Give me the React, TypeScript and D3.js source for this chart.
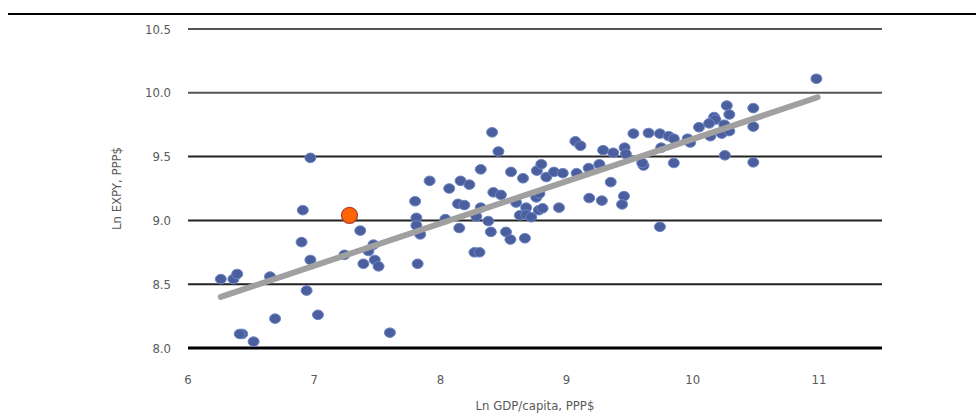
import React from "react";
import * as d3 from "d3";

const countryX: number[] = [
  6.97, 7.915, 7.8, 6.91, 7.81, 7.365, 7.81, 7.84, 6.9, 7.47, 7.43, 7.24, 6.97, 7.48, 7.39, 7.51, 7.82,
  6.26, 6.36, 6.39, 6.65, 6.94, 6.69, 7.03, 6.43, 6.41, 6.52, 7.6,
  8.41, 8.46, 9.07, 9.11, 9.53, 9.29, 9.37, 9.46, 9.47, 9.61,
  8.32, 8.56, 8.655, 8.765, 8.8, 8.84, 8.9, 8.97, 9.08, 9.175, 9.26, 9.35,
  8.07, 8.16, 8.23, 8.42, 8.48, 8.14, 8.19, 8.32, 8.6, 8.76, 8.785, 9.18, 9.28, 9.455, 9.44,
  8.94, 8.68, 8.78, 8.81, 8.63, 8.68, 8.72, 8.04, 8.285, 8.38,
  8.15, 8.4, 8.52, 8.555, 8.67, 8.27, 8.31, 9.74,
  10.98, 10.27, 10.48, 10.29, 10.17, 10.18, 10.05, 10.13, 10.25, 10.48, 9.65, 9.74, 9.81, 9.85,
  9.96, 9.98, 10.14, 10.23, 10.29, 9.75, 9.85, 10.255, 10.48, 9.6,
];
const countryY: number[] = [
  9.49, 9.31, 9.15, 9.08, 9.02, 8.92, 8.96, 8.89, 8.83, 8.81, 8.76, 8.73, 8.69, 8.69, 8.66, 8.64, 8.66,
  8.54, 8.54, 8.58, 8.56, 8.45, 8.23, 8.26, 8.11, 8.11, 8.05, 8.12,
  9.69, 9.54, 9.62, 9.585, 9.68, 9.55, 9.53, 9.57, 9.52, 9.43,
  9.4, 9.38, 9.33, 9.39, 9.44, 9.34, 9.38, 9.37, 9.37, 9.41, 9.44, 9.3,
  9.25, 9.31, 9.28, 9.22, 9.2, 9.13, 9.12, 9.1, 9.14, 9.18, 9.21, 9.175, 9.155, 9.19, 9.125,
  9.1, 9.1, 9.08, 9.095, 9.04, 9.045, 9.025, 9.01, 9.03, 8.995,
  8.94, 8.91, 8.91, 8.85, 8.86, 8.75, 8.75, 8.95,
  10.11, 9.9, 9.88, 9.83, 9.81, 9.79, 9.73, 9.76, 9.75, 9.735, 9.685, 9.68, 9.66, 9.64,
  9.64, 9.61, 9.66, 9.68, 9.7, 9.57, 9.45, 9.51, 9.455, 9.45,
];
const highlightX = 7.28;
const highlightY = 9.04;
const trendX: number[] = [6.26, 10.99];
const trendY: number[] = [8.4, 9.965];
const xTicks: number[] = [6, 7, 8, 9, 10, 11];
const yTicks: number[] = [8.0, 8.5, 9.0, 9.5, 10.0, 10.5];
const xTitle = "Ln GDP/capita, PPP$";
const yTitle = "Ln EXPY, PPP$";

const W = 976;
const H = 414;
const FONT = "'DejaVu Sans Condensed', 'Liberation Sans Narrow', 'Liberation Sans', sans-serif";

export default function App() {
  const x = d3.scaleLinear().domain([6, 11.5]).range([188, 882]);
  const y = d3.scaleLinear().domain([8, 10.5]).range([348, 29]);
  const line = d3
    .line<number>()
    .x((_, i) => x(trendX[i]))
    .y((_, i) => y(trendY[i]));

  return (
    <svg
      width={W}
      height={H}
      style={{ position: "absolute", left: 0, top: 0, background: "#fff" }}
      fontFamily={FONT}
    >
      <line x1={8} x2={976} y1={14} y2={14} stroke="#000" strokeWidth={2} />
      {yTicks.map((t) => (
        <g key={"y" + t}>
          <line
            x1={x(6)}
            x2={x(11.5)}
            y1={y(t)}
            y2={y(t)}
            stroke={t === 8 ? "#000" : t === 10.5 || t === 10 ? "#555" : "#222"}
            strokeWidth={t === 8 ? 3 : 2}
          />
          <text
            x={171}
            y={y(t)}
            dy="0.35em"
            textAnchor="end"
            fontSize={13}
            fill="#595959"
          >
            {d3.format(".1f")(t)}
          </text>
        </g>
      ))}
      {xTicks.map((t) => (
        <text
          key={"x" + t}
          x={x(t)}
          y={384}
          textAnchor="middle"
          fontSize={13}
          fill="#595959"
        >
          {t}
        </text>
      ))}
      <text x={x(8.75)} y={410} textAnchor="middle" fontSize={13} fill="#595959">
        {xTitle}
      </text>
      <text
        transform={`translate(121,${y(9.25)}) rotate(-90)`}
        textAnchor="middle"
        fontSize={13}
        fill="#595959"
      >
        {yTitle}
      </text>
      {countryX.map((cx, i) => (
        <ellipse
          key={i}
          cx={x(cx)}
          cy={y(countryY[i])}
          rx={5.5}
          ry={4.8}
          fill="#4B5E9E"
          stroke="#6B86C4"
          strokeWidth={1}
        />
      ))}
      <path
        d={line(trendX) || ""}
        fill="none"
        stroke="#A0A0A0"
        strokeWidth={6}
        strokeLinecap="round"
      />
      <circle
        cx={x(highlightX)}
        cy={y(highlightY)}
        r={8}
        fill="#FF6600"
        stroke="#B03A2E"
        strokeWidth={1.2}
      />
    </svg>
  );
}
